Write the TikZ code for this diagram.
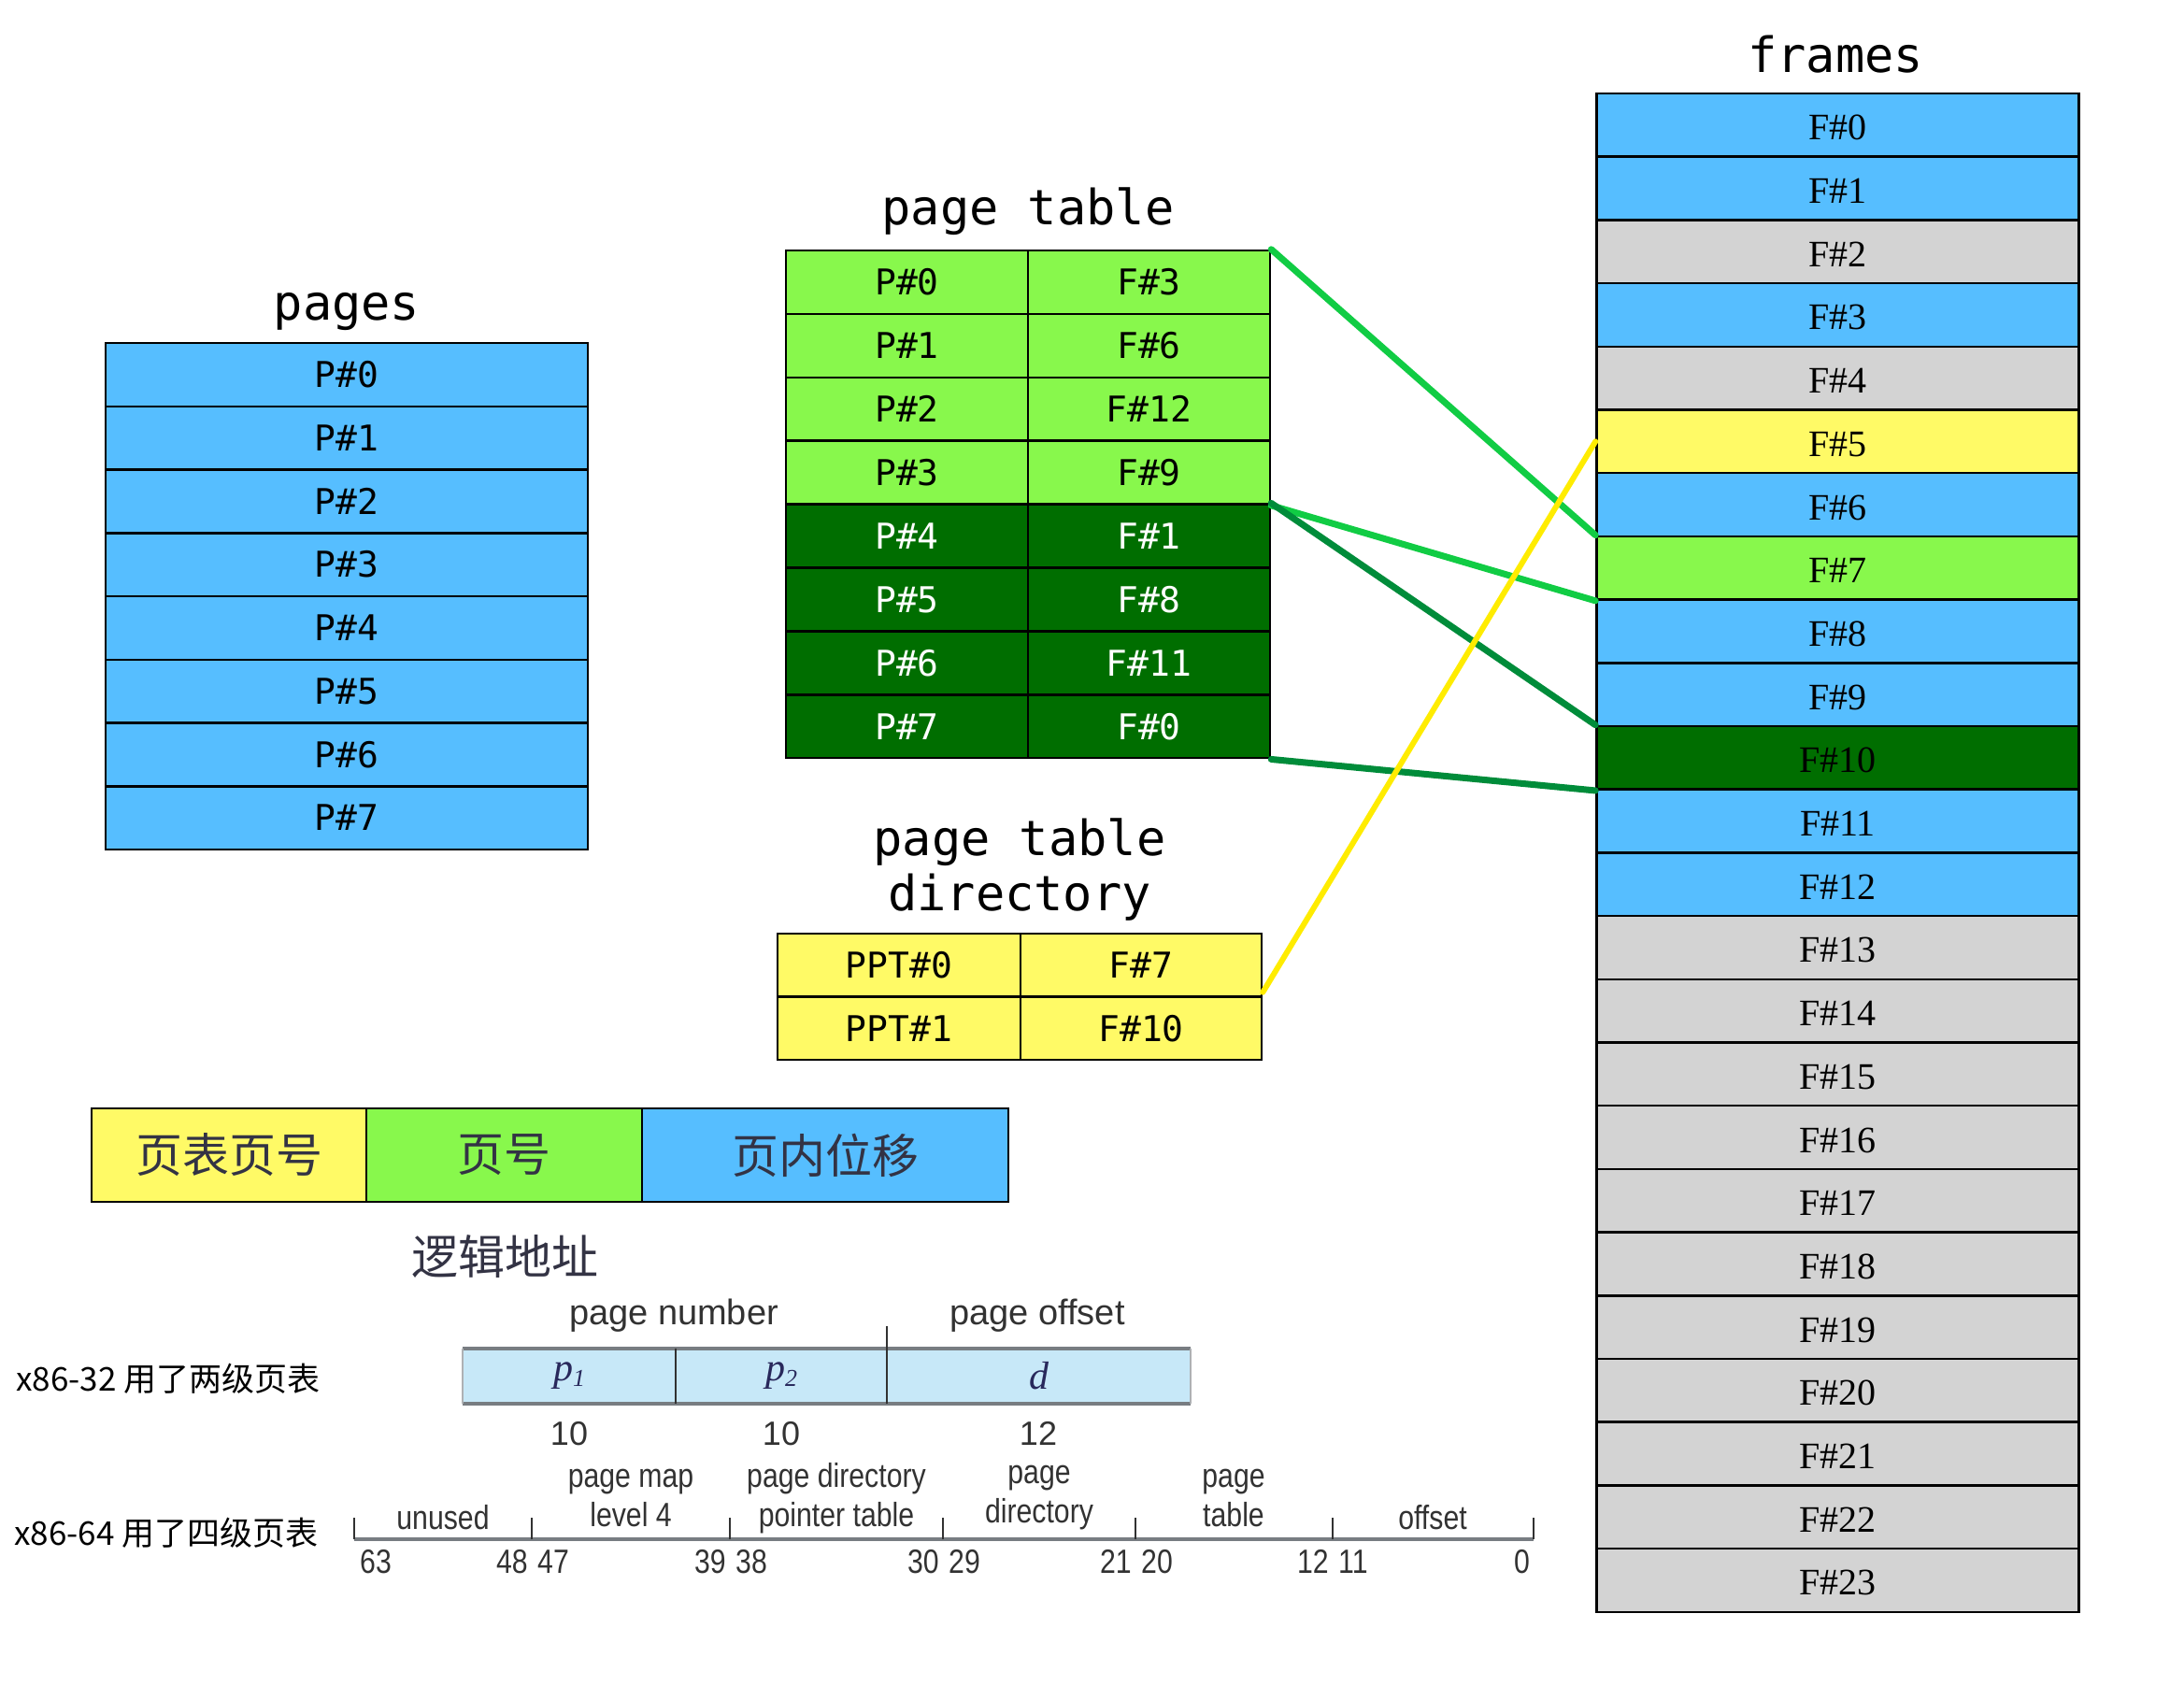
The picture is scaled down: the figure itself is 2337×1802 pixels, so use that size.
\documentclass[tikz,border=0pt]{standalone}
\usepackage{fontspec}
\setmainfont{Liberation Serif}
\setsansfont{Liberation Sans}
\setmonofont{DejaVu Sans Mono}
\newfontfamily\cjk{Noto Sans CJK SC}
\usetikzlibrary{calc}

\definecolor{blau}{RGB}{86,190,255}
\definecolor{grau}{RGB}{211,211,211}
\definecolor{gelb}{RGB}{255,250,102}
\definecolor{hellgruen}{RGB}{136,248,76}
\definecolor{dunkelgruen}{RGB}{0,110,0}
\definecolor{liniegruen}{RGB}{17,204,68}
\definecolor{liniedunkel}{RGB}{0,140,58}
\definecolor{liniegelb}{RGB}{255,236,0}
\definecolor{hellblau}{RGB}{199,232,248}
\definecolor{schrift}{RGB}{51,51,68}
\definecolor{buchgrau}{RGB}{50,50,50}
\definecolor{randgrau}{RGB}{120,125,130}

% schmale Schrift wie im Lehrbuch
\newcommand{\eng}[1]{\scalebox{0.84}[1]{#1}}

\begin{document}
\begin{tikzpicture}[x=1pt,y=-1pt,
	zelle/.style={draw=black,line width=2.5pt,inner sep=0pt,
		minimum width=516pt,minimum height=67.7pt},
	seite/.style={zelle,minimum height=67.75pt,
		font=\ttfamily\fontsize{38}{38}\selectfont},
	rahmen/.style={zelle,font=\rmfamily\fontsize{40}{40}\selectfont,
		text height=32pt,text depth=0pt},
	tab/.style={zelle,minimum width=259pt,minimum height=67.9pt,
		font=\ttfamily\fontsize{38}{38}\selectfont},
	titel/.style={font=\ttfamily\fontsize{52}{59}\selectfont,
		align=center,inner sep=0pt},
	linie/.style={line width=7pt,line cap=round},
	balken/.style={draw=black,line width=2.5pt,inner sep=0pt,
		minimum height=100pt,text=schrift,
		font=\cjk\fontsize{50}{50}\selectfont},
	buch/.style={font=\sffamily\fontsize{36}{36}\selectfont,
		text=buchgrau,inner sep=0pt},
	klein/.style={font=\sffamily\fontsize{36}{42}\selectfont,
		text=buchgrau,inner sep=0pt,align=center}]

\useasboundingbox (0,0) rectangle (2337,1802);

%
% Seiten
%
\node[titel] (pages) at (371,334) {pages};
\foreach \i in {0,...,7}{
	\node[seite,fill=blau] (p\i) at (371,{367+67.75*(\i+0.5)}) {P\#\i};
}

%
% Seitentabelle
%
\node[titel] (ptitel) at (1100,226) {page table};
\foreach \i/\f in {0/3,1/6,2/12,3/9}{
	\node[tab,fill=hellgruen] (pt\i) at (970.5,{268+67.9*(\i+0.5)}) {P\#\i};
	\node[tab,fill=hellgruen] (ptf\i) at (1229.5,{268+67.9*(\i+0.5)}) {F\#\f};
}
\foreach \i/\f in {4/1,5/8,6/11,7/0}{
	\node[tab,fill=dunkelgruen,text=white] (pt\i) at (970.5,{268+67.9*(\i+0.5)}) {P\#\i};
	\node[tab,fill=dunkelgruen,text=white] (ptf\i) at (1229.5,{268+67.9*(\i+0.5)}) {F\#\f};
}

%
% Seitentabellenverzeichnis
%
\node[titel] (dtitel) at (1091,931) {page table\\directory};
\foreach \i/\f in {0/7,1/10}{
	\node[tab,fill=gelb,minimum width=260pt,minimum height=67.5pt]
		(ppt\i) at (962,{999+67.5*(\i+0.5)}) {PPT\#\i};
	\node[tab,fill=gelb,minimum width=258pt,minimum height=67.5pt]
		(pptf\i) at (1221,{999+67.5*(\i+0.5)}) {F\#\f};
}

%
% Rahmen
%
\node[titel] (frames) at (1964,58) {frames};
\foreach \i/\farbe in {0/blau,1/blau,2/grau,3/blau,4/grau,5/gelb,6/blau,
	7/hellgruen,8/blau,9/blau,10/dunkelgruen,11/blau,12/blau,13/grau,
	14/grau,15/grau,16/grau,17/grau,18/grau,19/grau,20/grau,21/grau,
	22/grau,23/grau}{
	\node[rahmen,fill=\farbe] (f\i) at (1966.5,{100+67.7*(\i+0.5)}) {F\#\i};
}

%
% Zuordnung
%
\draw[linie,color=liniegruen] (ptf0.north east) -- (f7.north west);
\draw[linie,color=liniegruen] (ptf3.south east) -- (f7.south west);
\draw[linie,color=liniedunkel] (ptf4.north east) -- (f10.north west);
\draw[linie,color=liniedunkel] (ptf7.south east) -- (f10.south west);
\draw[linie,line width=6pt,color=liniegelb] ($(pptf0.south east)+(0,-6)$) -- (f5.west);

%
% logische Adresse
%
\node[balken,fill=gelb,minimum width=294pt] (ppn) at (245,1236) {页表页号};
\node[balken,fill=hellgruen,minimum width=295pt] (pn) at (539.5,1236) {页号};
\node[balken,fill=blau,minimum width=392pt] (off) at (883,1236) {页内位移};
\node[font=\cjk\fontsize{50}{50}\selectfont,text=schrift,inner sep=0pt]
	(la) at (540,1344) {逻辑地址};

%
% x86-32
%
\node[anchor=west,font=\cjk\fontsize{35}{35}\selectfont,inner sep=0pt]
	(x32) at (17,1475) {x86-32 用了两级页表};
\node[buch,font=\sffamily\fontsize{38}{38}\selectfont] (pnum) at (721,1408) {page number};
\node[buch,font=\sffamily\fontsize{38}{38}\selectfont] (poff) at (1110,1408) {page offset};
\node[inner sep=0pt,minimum width=228pt,minimum height=59pt,fill=hellblau,
	font=\rmfamily\itshape\fontsize{42}{42}\selectfont,text=buchgrau!80!blue]
	(a1) at (609,1472.5) {p\raisebox{-6pt}{\fontsize{26}{26}\selectfont 1}};
\node[inner sep=0pt,minimum width=226pt,minimum height=59pt,fill=hellblau,
	font=\rmfamily\itshape\fontsize{42}{42}\selectfont,text=buchgrau!80!blue]
	(a2) at (836,1472.5) {p\raisebox{-6pt}{\fontsize{26}{26}\selectfont 2}};
\node[inner sep=0pt,minimum width=325pt,minimum height=59pt,fill=hellblau,
	font=\rmfamily\itshape\fontsize{42}{42}\selectfont,text=buchgrau!80!blue]
	(a3) at (1111.5,1472.5) {d};
\draw[randgrau,line width=4pt] (a1.north west) -- (a3.north east);
\draw[randgrau,line width=4pt] (a1.south west) -- (a3.south east);
\draw[randgrau!60,line width=2pt] (a1.north west) -- (a1.south west);
\draw[randgrau!60,line width=2pt] (a3.north east) -- (a3.south east);
\draw[buchgrau,line width=1.5pt] (a1.north east) -- (a1.south east);
\draw[buchgrau,line width=1.5pt] (a3.south west) -- ++(0,-83);
\node[buch] (b1) at (609,1534) {10};
\node[buch] (b2) at (836,1534) {10};
\node[buch] (b3) at (1111,1534) {12};

%
% x86-64
%
\node[anchor=west,font=\cjk\fontsize{35}{35}\selectfont,inner sep=0pt]
	(x64) at (15,1640) {x86-64 用了四级页表};
\draw[randgrau,line width=4pt] (379,1647) -- (1641,1647);
\foreach \x/\l/\r [count=\k] in {379//63,569/48/47,781/39/38,1009/30/29,
	1215/21/20,1426/12/11,1641/0/}{
	\draw[buchgrau,line width=1.5pt] (\x,1647) -- (\x,1624);
	\node[klein,anchor=east] (l\k) at (\x-4,1671) {\eng{\l}};
	\node[klein,anchor=west] (r\k) at (\x+6,1671) {\eng{\r}};
}
\node[klein] (u1) at (474,1624) {\eng{unused}};
\node[klein] (u2) at (675,1603) {\eng{page map}\\\eng{level 4}};
\node[klein] (u3) at (895,1603) {\eng{page directory}\\\eng{pointer table}};
\node[klein] (u4) at (1112,1603) {\eng{page}\\\eng{directory}};
\node[klein] (u5) at (1320,1603) {\eng{page}\\\eng{table}};
\node[klein] (u6) at (1533,1624) {\eng{offset}};

\end{tikzpicture}
\end{document}
